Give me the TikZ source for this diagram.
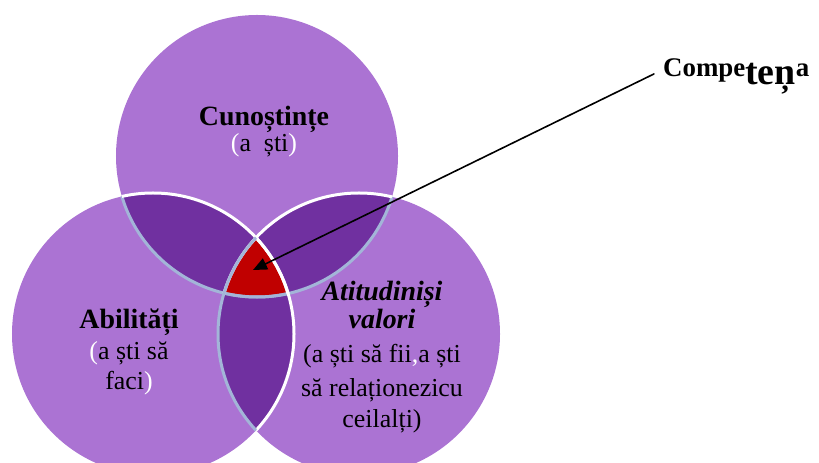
\documentclass[tikz,border=0pt]{standalone}
\usepackage{fontspec}
\setmainfont{Liberation Serif}
\usepackage{xcolor}
\usetikzlibrary{arrows.meta,positioning}
\definecolor{vnLight}{HTML}{AB73D3}
\definecolor{vnDark}{HTML}{7030A0}
\definecolor{vnCore}{HTML}{C00000}
\definecolor{vnEdge}{HTML}{A3B5D8}
\tikzset{
  vn diagram/.style={x=1bp, y=-1bp, line cap=round, line join=round},
  vn text/.style={font=\fontsize{26}{31}\selectfont, align=center, inner sep=0pt},
  vn blue rim/.style={draw=vnEdge, line width=3bp},
  vn white rim/.style={draw=white, line width=3bp},
  vn pointer/.style={-{Triangle[length=14bp,width=12bp]}, draw=black, line width=1.6bp}
}
\newcommand{\wpar}[1]{\textcolor{white}{#1}}
\newcommand{\vnhead}[1]{{\fontsize{28}{30}\selectfont\bfseries #1}}

\begin{document}
\begin{tikzpicture}[vn diagram]
\useasboundingbox (0,0) rectangle (819,463);
\def\rr{141bp}
\coordinate (ctop) at (257,156);
\coordinate (cleft) at (153,334);
\coordinate (cright) at (359,334);
\coordinate (core) at (253,270);
% circles and overlaps
\foreach \c in {ctop,cleft,cright}
  \fill[vnLight] (\c) circle[radius=\rr];
\begin{scope}
  \clip (ctop) circle[radius=\rr];
  \fill[vnDark] (cleft) circle[radius=\rr];
  \fill[vnDark] (cright) circle[radius=\rr];
\end{scope}
\begin{scope}
  \clip (cleft) circle[radius=\rr];
  \fill[vnDark] (cright) circle[radius=\rr];
\end{scope}
\begin{scope}
  \clip (ctop) circle[radius=\rr];
  \clip (cleft) circle[radius=\rr];
  \fill[vnCore] (cright) circle[radius=\rr];
\end{scope}
% rims inside the overlaps
\foreach \a/\b in {cleft/ctop,cright/ctop}{
  \begin{scope}
    \clip (\a) circle[radius=\rr];
    \draw[vn blue rim] (\b) circle[radius=\rr];
  \end{scope}
}
\foreach \a/\b in {ctop/cleft,cright/cleft,ctop/cright}{
  \begin{scope}
    \clip (\a) circle[radius=\rr];
    \draw[vn white rim] (\b) circle[radius=\rr];
  \end{scope}
}
\begin{scope}
  \clip (cleft) circle[radius=\rr];
  \draw[vn blue rim] (cright) circle[radius=\rr];
\end{scope}
% labels
\node[vn text] (know) at (264,132)
  {\vnhead{Cunoștințe}\\[-5bp]\wpar{(}a\ \ ști\wpar{)}};
\node[vn text] (skill) at (129,352)
  {\vnhead{Abilități}\\\wpar{(}a ști să\\faci\wpar{)}};
\node[vn text] (value) at (382,357)
  {\vnhead{\itshape Atitudiniși}\\[-3bp]\vnhead{\itshape valori}\\[4bp]
   (a ști să fii\wpar{,}a ști\\[3bp]să relaționezicu\\ceilalți)};
\node[anchor=base west, inner sep=0pt, font=\fontsize{27}{30}\selectfont\bfseries]
  (comp) at (663,77) {Compe\raisebox{-8bp}{\fontsize{38}{40}\selectfont teņ}a};
\draw[vn pointer] ([xshift=-9bp,yshift=3bp]comp.west) -- (core);
\end{tikzpicture}
\end{document}
